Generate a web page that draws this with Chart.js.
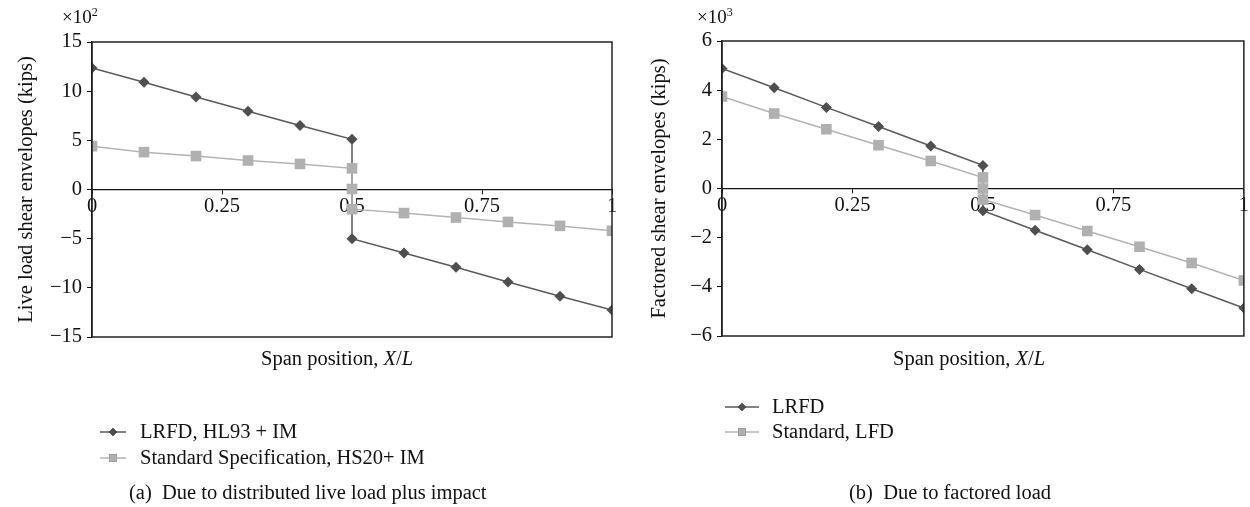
<!DOCTYPE html>
<html>
<head>
<meta charset="utf-8">
<script src="https://cdn.jsdelivr.net/npm/chart.js@4.4.1/dist/chart.umd.min.js"></script>
<style>
  body { margin: 0; background: #fff; font-family: 'Liberation Serif', 'DejaVu Serif', serif; }
  #wrap { position: relative; width: 1250px; height: 507px; overflow: hidden; }
  canvas { position: absolute; top: 0; }
  .txt { position: absolute; font-size: 20.5px; color: #111; white-space: pre; line-height: 1; }
  .mult { font-size: 19px; }
  .mult sup { font-size: 12px; vertical-align: 7px; }
</style>
</head>
<body>
<div id="wrap">
  <canvas id="chartA" width="625" height="507" style="left:0"></canvas>
  <canvas id="chartB" width="620" height="507" style="left:630px"></canvas>
  <div class="txt mult" style="left:62px; top:6px">×10<sup>2</sup></div>
  <div class="txt mult" style="left:697px; top:6px">×10<sup>3</sup></div>
  <div class="txt" style="left:261px; top:348px">Span position, <i>X</i>/<i>L</i></div>
  <div class="txt" style="left:893px; top:348px">Span position, <i>X</i>/<i>L</i></div>
  <div class="txt" style="left:129px; top:482px">(a)  Due to distributed live load plus impact</div>
  <div class="txt" style="left:849px; top:482px">(b)  Due to factored load</div>
</div>
<script>
// ---------- Datos ----------
// (a) carga viva distribuida + impacto, x10^2 kips
const posA_LRFD = [0, 0.1, 0.2, 0.3, 0.4, 0.5, 0.5, 0.6, 0.7, 0.8, 0.9, 1]
const liveLRFD = [12.35, 10.9, 9.4, 7.95, 6.5, 5.1, -5.0, -6.45, -7.9, -9.4, -10.85, -12.25]
const posA_Std = [0, 0.1, 0.2, 0.3, 0.4, 0.5, 0.5, 0.5, 0.6, 0.7, 0.8, 0.9, 1]
const liveStd = [4.4, 3.8, 3.4, 2.95, 2.6, 2.15, 0.05, -2.0, -2.4, -2.85, -3.3, -3.7, -4.2]

// (b) carga factorizada, x10^3 kips
const posB_LRFD = [0, 0.1, 0.2, 0.3, 0.4, 0.5, 0.5, 0.6, 0.7, 0.8, 0.9, 1]
const factLRFD = [4.88, 4.1, 3.3, 2.52, 1.73, 0.94, -0.9, -1.7, -2.49, -3.29, -4.08, -4.86]
const posB_Std = [0, 0.1, 0.2, 0.3, 0.4, 0.5, 0.5, 0.5, 0.6, 0.7, 0.8, 0.9, 1]
const factStd = [3.74, 3.05, 2.41, 1.76, 1.12, 0.45, 0, -0.45, -1.08, -1.73, -2.37, -3.03, -3.74]

const xTicks = [0, 0.25, 0.5, 0.75, 1]
const labelsA = ['LRFD, HL93 + IM', 'Standard Specification, HS20+ IM']
const labelsB = ['LRFD', 'Standard, LFD']
const yTitleA = 'Live load shear envelopes (kips)'
const yTitleB = 'Factored shear envelopes (kips)'

// ---------- Estilo ----------
const OSCURO = '#5a5a5a'
const CLARO = '#b3b3b3'
const FUENTE = "'Liberation Serif', 'DejaVu Serif', serif"
const TAM = 20.5

function puntos(xs, ys) {
  return xs.map((x, i) => ({ x: x, y: ys[i] }))
}

function fmtNum(v) {
  return v < 0 ? '\u2212' + Math.abs(v) : String(v)
}

// marco negro alrededor del área de trazado
const marco = {
  id: 'marco',
  afterDatasetsDraw(chart) {
    const a = chart.chartArea
    const ctx = chart.ctx
    ctx.save()
    ctx.strokeStyle = '#222'
    ctx.lineWidth = 1.5
    ctx.strokeRect(a.left, a.top, a.right - a.left, a.bottom - a.top)
    ctx.restore()
  }
}

// leyenda estilo Excel: línea con marcador + texto
const leyenda = {
  id: 'leyenda',
  afterDraw(chart, args, o) {
    const ctx = chart.ctx
    ctx.save()
    ctx.font = TAM + 'px ' + FUENTE
    ctx.textBaseline = 'middle'
    chart.data.datasets.forEach((ds, i) => {
      const y = o.y + i * o.gap
      ctx.strokeStyle = ds.borderColor
      ctx.lineWidth = 1.5
      ctx.beginPath()
      ctx.moveTo(o.x, y)
      ctx.lineTo(o.x + o.len, y)
      ctx.stroke()
      Chart.helpers.drawPoint(ctx, {
        pointStyle: ds.pointStyle,
        radius: ds.pointStyle === 'rect' ? 5.5 : 4,
        borderWidth: 0
      }, o.x + o.len / 2, y)
      ctx.fillStyle = ds.pointBackgroundColor
      ctx.fill()
      ctx.fillStyle = '#111'
      ctx.fillText(ds.label, o.textX, y + 1)
    })
    ctx.restore()
  }
}

function makeChart(id, cfg) {
  return new Chart(document.getElementById(id), {
    type: 'line',
    data: {
      datasets: [
        {
          label: cfg.labels[0],
          data: cfg.lrfd,
          borderColor: OSCURO,
          backgroundColor: OSCURO,
          pointBackgroundColor: '#4f4f4f',
          pointBorderWidth: 0,
          pointStyle: 'rectRot',
          pointRadius: 5.5,
          borderWidth: 1.5,
          order: 2
        },
        {
          label: cfg.labels[1],
          data: cfg.std,
          borderColor: CLARO,
          backgroundColor: CLARO,
          pointBackgroundColor: '#b0b0b0',
          pointBorderWidth: 0,
          pointStyle: 'rect',
          pointRadius: 7.5,
          borderWidth: 1.5,
          order: 1
        }
      ]
    },
    options: {
      responsive: false,
      animation: false,
      layout: { padding: cfg.padding, autoPadding: false },
      plugins: {
        legend: { display: false },
        tooltip: { enabled: false },
        leyenda: cfg.leyenda
      },
      scales: {
        x: {
          type: 'linear',
          position: { y: 0 },
          min: 0,
          max: 1,
          afterBuildTicks: s => { s.ticks = xTicks.map(v => ({ value: v })) },
          border: { color: '#111', width: 1.3 },
          grid: { drawOnChartArea: false, drawTicks: true, tickLength: 4, tickColor: '#111' },
          ticks: {
            color: '#111',
            padding: 1,
            maxRotation: 0,
            font: { family: FUENTE, size: TAM },
            callback: v => String(v)
          }
        },
        y: {
          min: cfg.yMin,
          max: cfg.yMax,
          afterFit: s => { s.width = cfg.yWidth },
          border: { color: '#111', width: 1.3 },
          grid: { drawOnChartArea: false, drawTicks: true, tickLength: 5, tickColor: '#111' },
          title: {
            display: true,
            text: cfg.yTitle,
            color: '#111',
            padding: { top: cfg.titlePad, bottom: 0 },
            font: { family: FUENTE, size: TAM }
          },
          ticks: {
            stepSize: cfg.step,
            color: '#111',
            padding: 5,
            font: { family: FUENTE, size: TAM },
            callback: v => fmtNum(v)
          }
        }
      }
    },
    plugins: [marco, leyenda]
  })
}

makeChart('chartA', {
  labels: labelsA,
  lrfd: puntos(posA_LRFD, liveLRFD),
  std: puntos(posA_Std, liveStd),
  yMin: -15, yMax: 15, step: 5,
  yTitle: yTitleA,
  yWidth: 92,
  titlePad: 14,
  padding: { left: 0, top: 42, right: 13, bottom: 170 },
  leyenda: { x: 100, y: 432, gap: 26, len: 26, textX: 140 }
})

makeChart('chartB', {
  labels: labelsB,
  lrfd: puntos(posB_LRFD, factLRFD),
  std: puntos(posB_Std, factStd),
  yMin: -6, yMax: 6, step: 2,
  yTitle: yTitleB,
  yWidth: 92,
  titlePad: 17,
  padding: { left: 0, top: 41, right: 2, bottom: 171 },
  leyenda: { x: 95, y: 407, gap: 25, len: 34, textX: 142 }
})
</script>
</body>
</html>
